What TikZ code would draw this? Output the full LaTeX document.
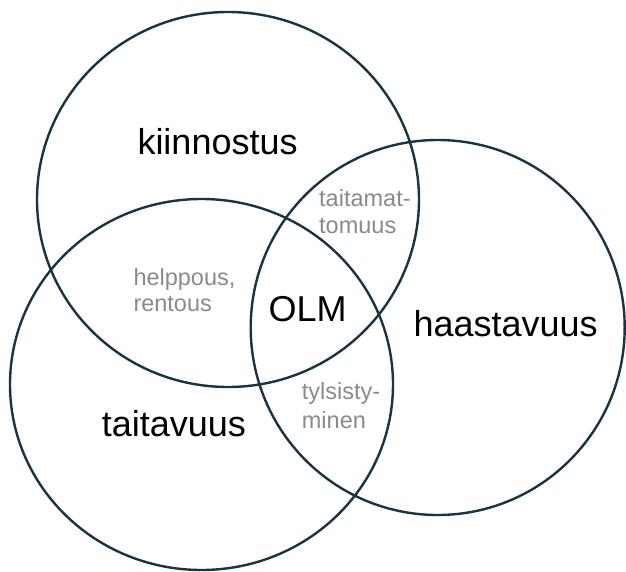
\documentclass[tikz,border=0pt]{standalone}
\usepackage{fontspec}
\setmainfont{Liberation Sans}
\definecolor{ringcol}{RGB}{24,52,68}
\definecolor{subgray}{RGB}{138,138,138}
\tikzset{
  ring/.style={draw=ringcol, line width=2.4pt},
  biglabel/.style={font=\fontsize{36}{40}\selectfont, text=black, anchor=base west, inner sep=0pt},
  sublabel/.style={font=\fontsize{23.5}{28}\selectfont, text=subgray, anchor=base west, inner sep=0pt}
}
\begin{document}
\begin{tikzpicture}[x=1pt,y=-1pt]
\useasboundingbox (0,0) rectangle (626,572);
% circles
\draw[ring] (228,199.5) ellipse [x radius=191, y radius=187.5];
\draw[ring] (201.5,384.5) ellipse [x radius=191.5, y radius=185.5];
\draw[ring] (437.7,327.5) ellipse [x radius=187, y radius=187.5];
% main labels
\node[biglabel] (kiin) at (137.3,155) {kiinnostus};
\node[biglabel] (haas) at (413.3,336.7) {haastavuus};
\node[biglabel] (tait) at (101.7,436.7) {taitavuus};
\node[biglabel] (olm) at (268.3,321.7) {OLM};
% sub labels
\node[sublabel] (tm1) at (319,206) {taitamat-};
\node[sublabel] (tm2) at (319,233.3) {tomuus};
\node[sublabel] (hp1) at (133.3,285) {helppous,};
\node[sublabel] (hp2) at (133.3,311.7) {rentous};
\node[sublabel] (ty1) at (301.7,399) {tylsisty-};
\node[sublabel] (ty2) at (301.7,428.3) {minen};
\end{tikzpicture}
\end{document}
